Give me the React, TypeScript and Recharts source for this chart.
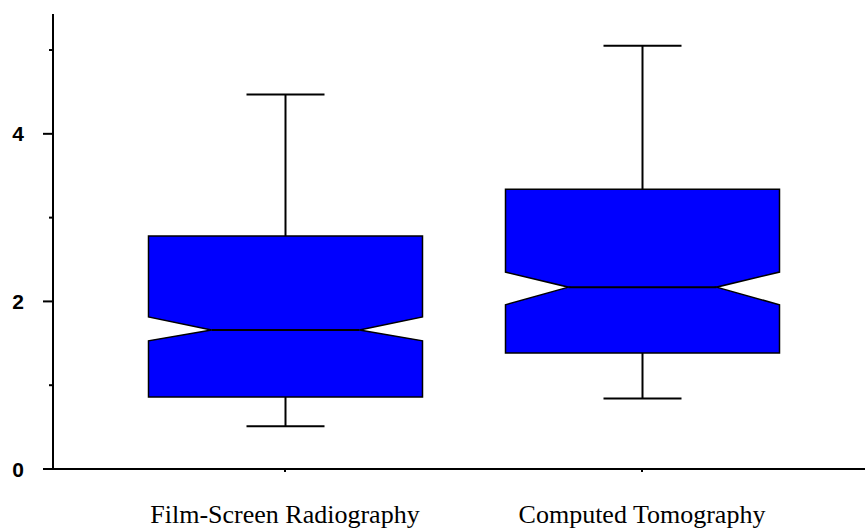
import { ComposedChart, Bar, XAxis, YAxis } from "recharts";

const categories = ["Film-Screen Radiography", "Computed Tomography"];
const whiskerLow = [0.51, 0.84];
const q1 = [0.86, 1.385];
const notchLow = [1.53, 1.96];
const median = [1.66, 2.17];
const notchHigh = [1.815, 2.35];
const q3 = [2.78, 3.34];
const whiskerHigh = [4.47, 5.05];

const yTicks = [0, 1, 2, 3, 4, 5];
const yLabels = ["0", "", "2", "", "4", ""];

const data = categories.map((name, i) => ({
  name,
  range: [whiskerLow[i], whiskerHigh[i]],
  lo: whiskerLow[i],
  q1: q1[i],
  nLo: notchLow[i],
  med: median[i],
  nHi: notchHigh[i],
  q3: q3[i],
  hi: whiskerHigh[i],
}));

const BoxShape = (props: any) => {
  const { x, y, width, height, payload } = props;
  const top = Math.min(y, y + height);
  const h = Math.abs(height);
  const p = payload;
  // map a value through the bar's own pixel span
  const py = (v: number) => top + (h * (p.hi - v)) / (p.hi - p.lo);
  const l = x;
  const r = x + width;
  const cx = x + width / 2;
  const d = width * 0.23;
  const cap = 39;
  const pts = [
    [l, py(p.q3)],
    [r, py(p.q3)],
    [r, py(p.nHi)],
    [r - d, py(p.med)],
    [r, py(p.nLo)],
    [r, py(p.q1)],
    [l, py(p.q1)],
    [l, py(p.nLo)],
    [l + d, py(p.med)],
    [l, py(p.nHi)],
  ]
    .map((pt) => pt.join(","))
    .join(" ");
  return (
    <g>
      <line x1={cx} x2={cx} y1={py(p.hi)} y2={py(p.q3)} stroke="#000" strokeWidth={2} />
      <line x1={cx} x2={cx} y1={py(p.q1)} y2={py(p.lo)} stroke="#000" strokeWidth={2} />
      <line x1={cx - cap} x2={cx + cap} y1={py(p.hi)} y2={py(p.hi)} stroke="#000" strokeWidth={2} />
      <line x1={cx - cap} x2={cx + cap} y1={py(p.lo)} y2={py(p.lo)} stroke="#000" strokeWidth={2} />
      <polygon points={pts} fill="#0000ff" stroke="#000" strokeWidth={1.5} />
      <line x1={l + d} x2={r - d} y1={py(p.med)} y2={py(p.med)} stroke="#000" strokeWidth={2} />
    </g>
  );
};

const YTick = ({ x, y, payload, index }: any) => {
  const major = payload.value % 2 === 0;
  return (
    <g>
      <line x1={x - (major ? 10 : 4)} x2={x} y1={y} y2={y} stroke="#000" strokeWidth={2} />
      <text
        x={x - 29}
        y={y}
        dy="0.36em"
        textAnchor="end"
        fontFamily="Liberation Sans, Arial, sans-serif"
        fontSize={21}
        fontWeight="bold"
        fill="#000"
      >
        {yLabels[index]}
      </text>
    </g>
  );
};

const XTick = ({ x, y, payload }: any) => (
  <g>
    <line x1={x} x2={x} y1={y - 8} y2={y - 5} stroke="#000" strokeWidth={2} />
    <text
      x={x}
      y={y + 28}
      dy="0.71em"
      textAnchor="middle"
      fontFamily="Liberation Serif, Times New Roman, serif"
      fontSize={26}
      fill="#000"
    >
      {payload.value}
    </text>
  </g>
);

export default function App() {
  return (
    <div style={{ position: "absolute", left: 0, top: 0, background: "#fff" }}>
      <ComposedChart
        width={865}
        height={529}
        data={data}
        margin={{ top: 14, right: 0, bottom: 0, left: 0 }}
      >
        <XAxis
          dataKey="name"
          padding={{ left: 53.5, right: 44.5 }}
          axisLine={{ stroke: "#000", strokeWidth: 2 }}
          tickLine={false}
          tickSize={6}
          tick={<XTick />}
          interval={0}
          height={60}
        />
        <YAxis
          type="number"
          domain={[0, 5.43]}
          ticks={yTicks}
          width={53}
          axisLine={{ stroke: "#000", strokeWidth: 2 }}
          tickLine={false}
          tickSize={0}
          tickMargin={0}
          tick={<YTick />}
          interval={0}
        />
        <Bar dataKey="range" barSize={274} shape={<BoxShape />} isAnimationActive={false} />
      </ComposedChart>
    </div>
  );
}
